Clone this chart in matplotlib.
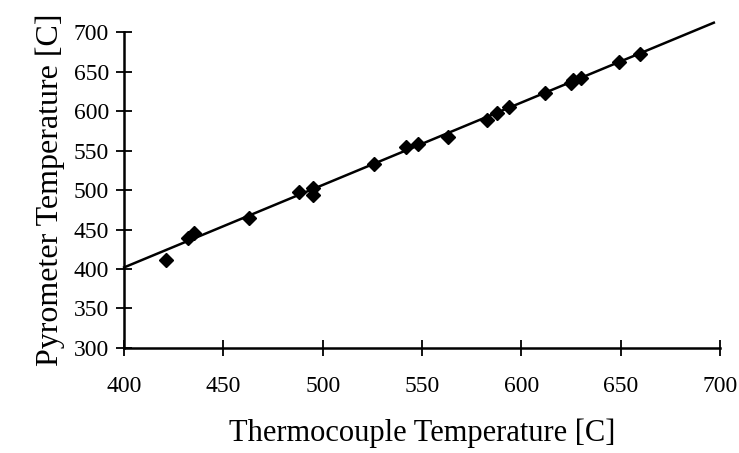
import matplotlib.pyplot as plt

# thermocouple vs pyrometer readings [C]
thermocouple = [421, 432, 435, 463, 488, 495, 495, 526, 542, 548, 563,
                583, 588, 594, 612, 625, 626, 630, 649, 660]
pyrometer = [411, 439, 446, 465, 497, 503, 494, 533, 554, 558, 567,
             589, 597, 605, 623, 635, 640, 642, 662, 672]

# fitted line end points
fit_x = [400, 697]
fit_y = [402, 712]

x_ticks = [400, 450, 500, 550, 600, 650, 700]
y_ticks = [300, 350, 400, 450, 500, 550, 600, 650, 700]

plt.rcParams['font.family'] = ['Liberation Serif', 'DejaVu Serif']

fig = plt.figure(figsize=(7.39, 4.53), dpi=100)
ax = fig.add_axes([0.168, 0.232, 0.806, 0.697])

ax.plot(fit_x, fit_y, color='black', linewidth=1.8, clip_on=False, zorder=2)
ax.plot(thermocouple, pyrometer, linestyle='none', marker='D', markersize=7.5,
        color='black', clip_on=False, zorder=3)

ax.set_xlim(400, 700)
ax.set_ylim(300, 700)
ax.set_xticks(x_ticks)
ax.set_yticks(y_ticks)

for side in ['top', 'right']:
    ax.spines[side].set_visible(False)
for side in ['left', 'bottom']:
    ax.spines[side].set_linewidth(1.8)

ax.tick_params(direction='inout', length=12, width=1.3, labelsize=17, pad=5)
ax.tick_params(axis='x', pad=14)

ax.set_xlabel('Thermocouple Temperature [C]', fontsize=22, labelpad=16)
ax.set_ylabel('Pyrometer Temperature [C]', fontsize=23, labelpad=6)

fig.savefig('out.png', dpi=100)
